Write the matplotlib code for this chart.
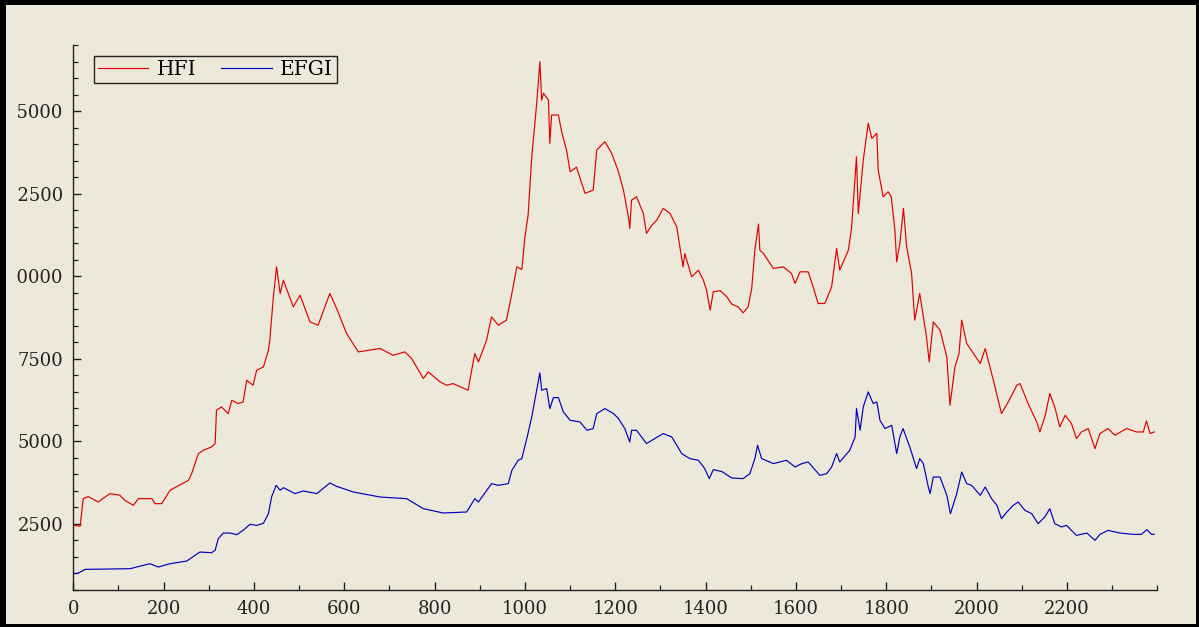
import matplotlib
matplotlib.use('Agg')
import matplotlib.pyplot as plt
from matplotlib.patches import Rectangle
from matplotlib.ticker import MultipleLocator
from matplotlib.transforms import Bbox, TransformedBbox, IdentityTransform

# ---------------- data ----------------
series_names = ['HFI', 'EFGI']

hfi_x = [0, 15, 22, 33, 55, 81, 103, 114, 133, 144, 174, 181, 196, 214, 255, 262, 277, 288, 306, 314,
         317, 328, 343, 351, 365, 376, 384, 398, 406, 421, 432, 435, 443, 450, 458, 465, 487, 502, 524, 542,
         568, 583, 605, 631, 679, 708, 734, 749, 775, 786, 812, 827, 841, 874, 882, 889, 897, 915, 926, 941,
         959, 971, 982, 993, 1000, 1007, 1015, 1026, 1033, 1037, 1041, 1052, 1055, 1059, 1074, 1082, 1092,
         1100, 1114, 1133, 1151, 1159, 1177, 1192, 1207, 1218, 1229, 1232, 1236, 1247, 1262, 1269, 1281,
         1292, 1306, 1321, 1336, 1350, 1354, 1369, 1384, 1395, 1402, 1410, 1417, 1432, 1447, 1458, 1472,
         1483, 1494, 1502, 1509, 1517, 1520, 1528, 1550, 1572, 1590, 1598, 1609, 1627, 1638, 1649, 1664,
         1679, 1690, 1697, 1716, 1723, 1734, 1738, 1749, 1760, 1768, 1779, 1782, 1793, 1804, 1811, 1819,
         1823, 1830, 1838, 1845, 1856, 1863, 1874, 1889, 1895, 1904, 1919, 1934, 1941, 1952, 1961, 1967,
         1978, 1993, 2008, 2019, 2037, 2055, 2070, 2089, 2096, 2114, 2133, 2140, 2152, 2162, 2173, 2184,
         2196, 2210, 2221, 2232, 2247, 2262, 2273, 2291, 2306, 2332, 2354, 2369, 2376, 2384, 2393]
hfi_y = [2450, 2420, 3257, 3320, 3155, 3409, 3360, 3206, 3054, 3257, 3257, 3105, 3105, 3509, 3812, 4014, 4621,
         4722, 4823, 4924, 5934, 6035, 5834, 6238, 6137, 6187, 6844, 6693, 7147, 7248, 7754, 8057, 9370,
         10279, 9472, 9876, 9067, 9421, 8612, 8511, 9472, 9017, 8260, 7702, 7805, 7602, 7702, 7502, 6895,
         7096, 6793, 6692, 6743, 6541, 7147, 7653, 7399, 8057, 8763, 8511, 8663, 9472, 10279, 10200, 11189,
         11847, 13615, 15233, 16495, 15333, 15537, 15333, 14021, 14879, 14879, 14324, 13818, 13160, 13300,
         12505, 12605, 13818, 14070, 13717, 13160, 12605, 11795, 11443, 12302, 12402, 11898, 11291, 11544,
         11695, 12050, 11898, 11493, 10279, 10685, 9976, 10179, 9876, 9573, 8966, 9522, 9560, 9370, 9148,
         9067, 8885, 9067, 9623, 10785, 11574, 10785, 10685, 10230, 10279, 10078, 9776, 10128, 10128, 9675,
         9169, 9169, 9675, 10836, 10179, 10785, 11443, 13615, 11898, 13514, 14627, 14172, 14324, 13211,
         12402, 12554, 12402, 11392, 10431, 10988, 12050, 10886, 10078, 8663, 9472, 8157, 7399, 8612, 8360,
         7551, 6086, 7248, 7653, 8663, 7957, 7653, 7350, 7805, 6844, 5834, 6186, 6692, 6743, 6137, 5580,
         5277, 5783, 6441, 6035, 5429, 5783, 5530, 5076, 5277, 5380, 4773, 5228, 5380, 5177, 5380, 5277,
         5277, 5610, 5228, 5277]

efgi_x = [0, 11, 26, 126, 140, 170, 188, 214, 251, 262, 280, 306, 314, 321, 332, 347, 362, 376, 391, 406,
          421, 432, 439, 449, 458, 465, 491, 509, 539, 568, 583, 620, 679, 738, 775, 819, 871, 889, 897, 926,
          941, 963, 971, 985, 993, 1004, 1015, 1026, 1033, 1037, 1048, 1055, 1063, 1074, 1085, 1100, 1122,
          1137, 1151, 1159, 1177, 1196, 1207, 1221, 1232, 1236, 1247, 1269, 1306, 1325, 1347, 1365, 1384,
          1398, 1408, 1417, 1436, 1458, 1483, 1498, 1509, 1515, 1524, 1550, 1579, 1598, 1613, 1627, 1653,
          1668, 1679, 1690, 1697, 1719, 1731, 1734, 1742, 1749, 1760, 1771, 1779, 1786, 1797, 1812, 1823,
          1830, 1837, 1852, 1867, 1874, 1882, 1893, 1897, 1904, 1919, 1934, 1942, 1956, 1967, 1978, 1989,
          2008, 2019, 2033, 2045, 2055, 2067, 2081, 2092, 2107, 2122, 2136, 2151, 2162, 2173, 2188, 2199,
          2221, 2244, 2262, 2273, 2291, 2317, 2347, 2365, 2377, 2387, 2393]
efgi_y = [983, 1000, 1114, 1135, 1185, 1286, 1185, 1286, 1366, 1468, 1639, 1619, 1690, 2044, 2215, 2215, 2165,
          2296, 2478, 2448, 2510, 2802, 3306, 3660, 3509, 3590, 3409, 3489, 3409, 3731, 3630, 3458, 3306,
          3257, 2953, 2822, 2852, 3257, 3155, 3711, 3660, 3711, 4115, 4418, 4470, 5076, 5732, 6541, 7066,
          6541, 6592, 5985, 6318, 6318, 5883, 5631, 5580, 5328, 5378, 5834, 5985, 5834, 5682, 5380, 4974,
          5328, 5328, 4925, 5228, 5126, 4621, 4470, 4419, 4167, 3863, 4137, 4076, 3882, 3863, 4014, 4470,
          4873, 4470, 4318, 4419, 4216, 4318, 4367, 3963, 4014, 4216, 4621, 4367, 4722, 5126, 5985, 5329,
          6035, 6490, 6137, 6187, 5631, 5380, 5480, 4621, 5126, 5380, 4823, 4167, 4470, 4318, 3610, 3409,
          3912, 3912, 3357, 2802, 3409, 4064, 3711, 3660, 3357, 3610, 3257, 3054, 2650, 2852, 3054, 3155,
          2902, 2802, 2499, 2700, 2953, 2499, 2397, 2448, 2144, 2215, 1993, 2175, 2296, 2215, 2175, 2175,
          2317, 2175, 2175]

x_ticks = [0, 200, 400, 600, 800, 1000, 1200, 1400, 1600, 1800, 2000, 2200]
y_ticks = [2500, 5000, 7500, 10000, 12500, 15000]

# ---------------- figure ----------------
plt.rcParams['font.family'] = ['DejaVu Serif']
W, H = 1199, 627
bg = '#ece8da'
fig = plt.figure(figsize=(W / 100, H / 100), dpi=100)
fig.patch.set_facecolor(bg)

ax = fig.add_axes([73.3 / W, 36.7 / H, (1157.3 - 73.3) / W, (590.3 - 45) / H])
ax.set_facecolor(bg)

ax.plot(hfi_x, hfi_y, color='#e00000', lw=0.85, label=series_names[0])
ax.plot(efgi_x, efgi_y, color='#0000c0', lw=0.85, label=series_names[1])

ax.set_xlim(0, 2400)
ax.set_ylim(480, 17000)

for s in ['top', 'right']:
    ax.spines[s].set_visible(False)
for s in ['left', 'bottom']:
    ax.spines[s].set_color('#222222')
    ax.spines[s].set_linewidth(1.0)

ax.set_xticks(x_ticks)
ax.set_xticklabels([str(v) for v in x_ticks])
ax.set_yticks(y_ticks)
ax.set_yticklabels([str(v) for v in y_ticks])
ax.xaxis.set_minor_locator(MultipleLocator(100))
ax.yaxis.set_minor_locator(MultipleLocator(500))
ax.tick_params(which='major', direction='in', length=6, width=1.0, pad=7,
               labelsize=13, colors='#222222')
ax.tick_params(which='minor', direction='in', length=3.5, width=0.9, colors='#222222')

leg = ax.legend(loc='upper left', bbox_to_anchor=(94 / W, 1 - 56 / H),
                bbox_transform=fig.transFigure, ncol=2, frameon=True, fancybox=False,
                edgecolor='#222222', facecolor=bg, framealpha=1, borderaxespad=0,
                handlelength=2.5, handletextpad=0.4, columnspacing=1.25, borderpad=0.2,
                fontsize=14.5)
leg.get_frame().set_linewidth(1.0)

# black frame around the picture
for (x0, y0, w, h) in [(0, 0, 6, H), (0, H - 5, W, 5), (W - 3, 0, 3, H), (0, 0, W, 3)]:
    fig.patches.append(Rectangle((x0 / W, y0 / H), w / W, h / H, transform=fig.transFigure,
                                 facecolor='black', edgecolor='none', zorder=10))

# the picture is cropped at the left: the leading digit of the 5-digit y labels is cut off
fig.canvas.draw()
renderer = fig.canvas.get_renderer()
for lbl in ax.get_yticklabels():
    txt = lbl.get_text()
    if len(txt) > 4:
        bb = lbl.get_window_extent(renderer)
        probe = fig.text(0, 0, txt[-4:], fontproperties=lbl.get_fontproperties())
        w4 = probe.get_window_extent(renderer).width
        probe.remove()
        left = bb.x1 - w4 - 0.5
        lbl.set_clip_box(TransformedBbox(Bbox([[left, 0], [W, H]]), IdentityTransform()))
        lbl.set_clip_on(True)

fig.savefig('out.png', dpi=100, facecolor=bg)
